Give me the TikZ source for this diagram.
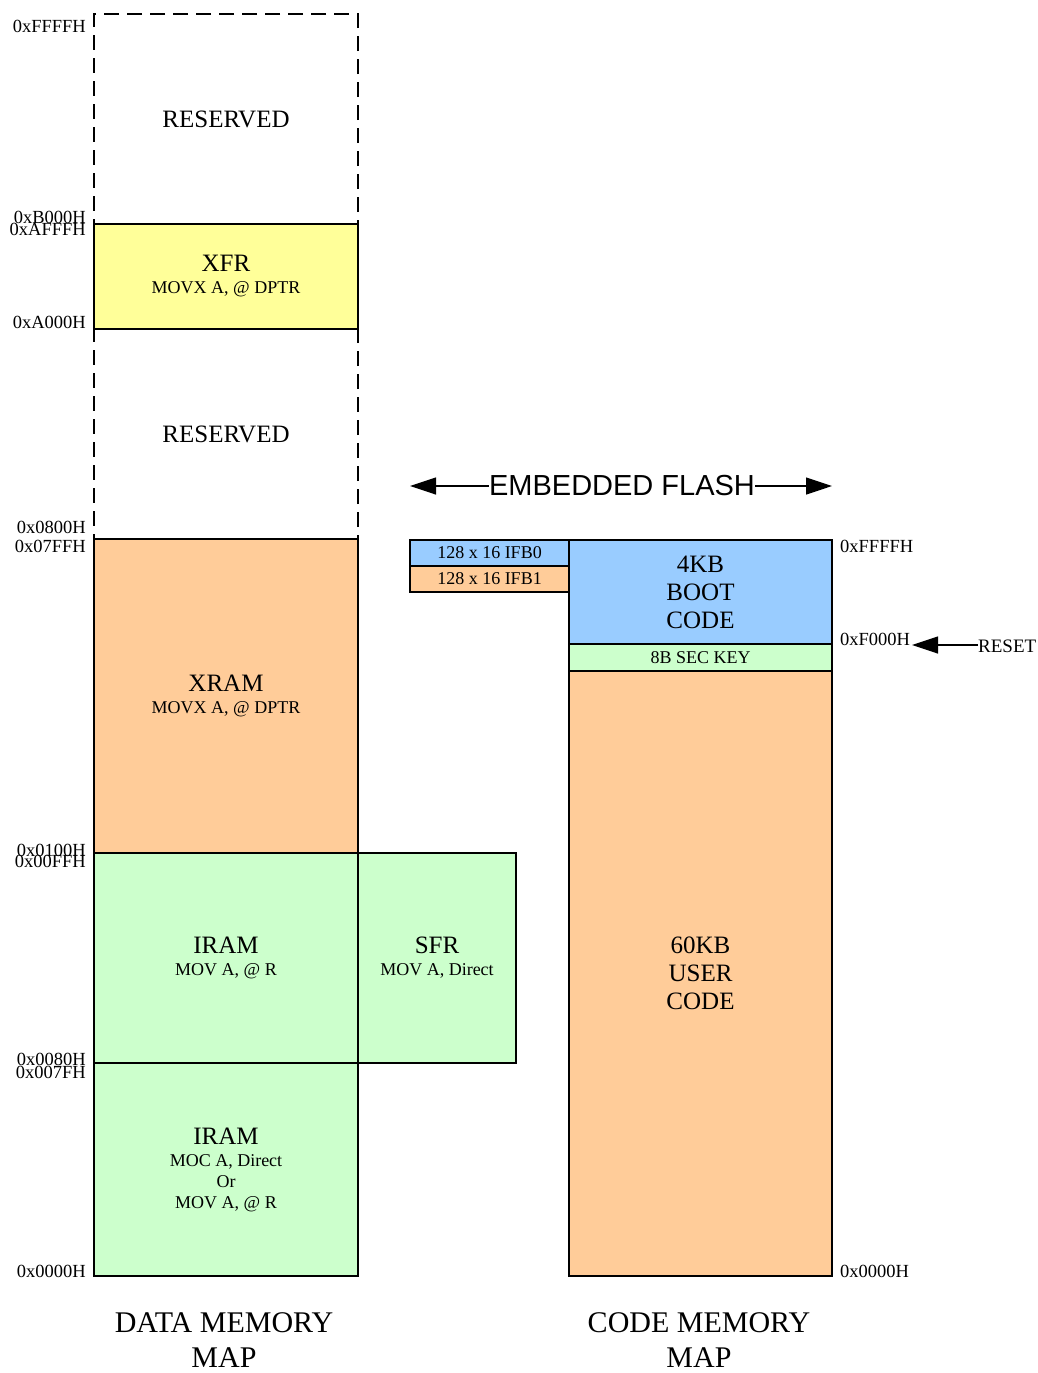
\documentclass[tikz,border=0pt]{standalone}
\usepackage{fontspec}
\setmainfont{Liberation Serif}
\newfontfamily\flashfont{Liberation Sans}
\usepackage{xcolor}
\usetikzlibrary{arrows.meta,positioning}

\definecolor{xfrcol}{HTML}{FFFF99}
\definecolor{ramcol}{HTML}{FFCC99}
\definecolor{iramcol}{HTML}{CCFFCC}
\definecolor{bootcol}{HTML}{99CCFF}
\newcommand{\bigtxt}{\fontsize{25}{28}\selectfont}
\newcommand{\smalltxt}{\fontsize{18}{21}\selectfont}

\begin{document}
\begin{tikzpicture}[
  x=1pt, y=-1pt,
  region/.style={draw, line width=1.6pt, anchor=north west, inner sep=0pt,
    outer sep=0pt, align=center, font=\bigtxt},
  reserved/.style={region, dashed, dash pattern=on 15pt off 8pt},
  addr/.style={font=\fontsize{18.5}{21}\selectfont, inner sep=0pt},
  caption/.style={font=\fontsize{30}{35}\selectfont, align=center, anchor=north},
  >={Triangle[length=26pt,width=17pt]}
]
\useasboundingbox (0,0) rectangle (1038,1373);

% data memory map
\node[reserved, minimum width=264, minimum height=210] (res1) at (94,14) {RESERVED};
\node[reserved, minimum width=264, minimum height=210] (res2) at (94,329) {RESERVED};
\node[region, fill=xfrcol, minimum width=264, minimum height=105] (xfr) at (94,224)
  {XFR\\[-6pt]\smalltxt MOVX A, @ DPTR};
\node[region, fill=ramcol, minimum width=264, minimum height=314] (xram) at (94,539)
  {XRAM\\[-6pt]\smalltxt MOVX A, @ DPTR};
\node[region, fill=iramcol, minimum width=264, minimum height=210] (iramhi) at (94,853)
  {IRAM\\[-6pt]\smalltxt MOV A, @ R};
\node[region, fill=iramcol, minimum width=158, minimum height=210] (sfr) at (358,853)
  {SFR\\[-6pt]\smalltxt MOV A, Direct};
\node[region, fill=iramcol, minimum width=264, minimum height=213] (iramlo) at (94,1063)
  {IRAM\\[-6pt]\smalltxt MOC A, Direct\\[-7pt]\smalltxt Or\\[-7pt]\smalltxt MOV A, @ R};

% code memory map
\node[region, fill=bootcol, minimum width=263, minimum height=104] (boot) at (569,540)
  {4KB\\BOOT\\CODE};
\node[region, fill=iramcol, minimum width=263, minimum height=27, font=\smalltxt] (seckey) at (569,644)
  {8B SEC KEY};
\node[region, fill=ramcol, minimum width=263, minimum height=605] (user) at (569,671)
  {60KB\\USER\\CODE};
\node[region, fill=bootcol, minimum width=159, minimum height=26, font=\smalltxt] (ifb0) at (410,540)
  {128 x 16 IFB0};
\node[region, fill=ramcol, minimum width=159, minimum height=26, font=\smalltxt] (ifb1) at (410,566)
  {128 x 16 IFB1};

% addresses
\node[addr, anchor=base east] (affff) at (86,32) {0xFFFFH};
\node[addr, anchor=base east] (ab000) at (86,223) {0xB000H};
\node[addr, anchor=base east] (aafff) at (86,235) {0xAFFFH};
\node[addr, anchor=base east] (aa000) at (86,328) {0xA000H};
\node[addr, anchor=base east] (a0800) at (86,533) {0x0800H};
\node[addr, anchor=base east] (a07ff) at (86,552) {0x07FFH};
\node[addr, anchor=base east] (a0100) at (86,856) {0x0100H};
\node[addr, anchor=base east] (a00ff) at (86,867) {0x00FFH};
\node[addr, anchor=base east] (a0080) at (86,1065) {0x0080H};
\node[addr, anchor=base east] (a007f) at (86,1078) {0x007FH};
\node[addr, anchor=base east] (a0000) at (86,1277) {0x0000H};
\node[addr, anchor=base west] (cffff) at (840,552) {0xFFFFH};
\node[addr, anchor=base west] (cf000) at (840,645) {0xF000H};
\node[addr, anchor=base west] (c0000) at (840,1277) {0x0000H};

% embedded flash
\node[font=\flashfont\fontsize{29}{32}\selectfont, inner sep=0pt] (flash) at (622,486) {EMBEDDED FLASH};
\coordinate (flashl) at (410,486);
\coordinate (flashr) at (832,486);
\draw[->, line width=1.2pt] (flash.west) -- (flashl);
\draw[->, line width=1.2pt] (flash.east) -- (flashr);

% reset
\node[addr, anchor=base west, font=\fontsize{19}{21}\selectfont] (reset) at (978,652) {RESET};
\coordinate (resetend) at (912,645);
\draw[->, line width=1.2pt] (reset.west |- resetend) -- (resetend);

% captions
\node[caption] (datacap) at (224,1309) {DATA MEMORY\\MAP};
\node[caption] (codecap) at (699,1309) {CODE MEMORY\\MAP};
\end{tikzpicture}
\end{document}
